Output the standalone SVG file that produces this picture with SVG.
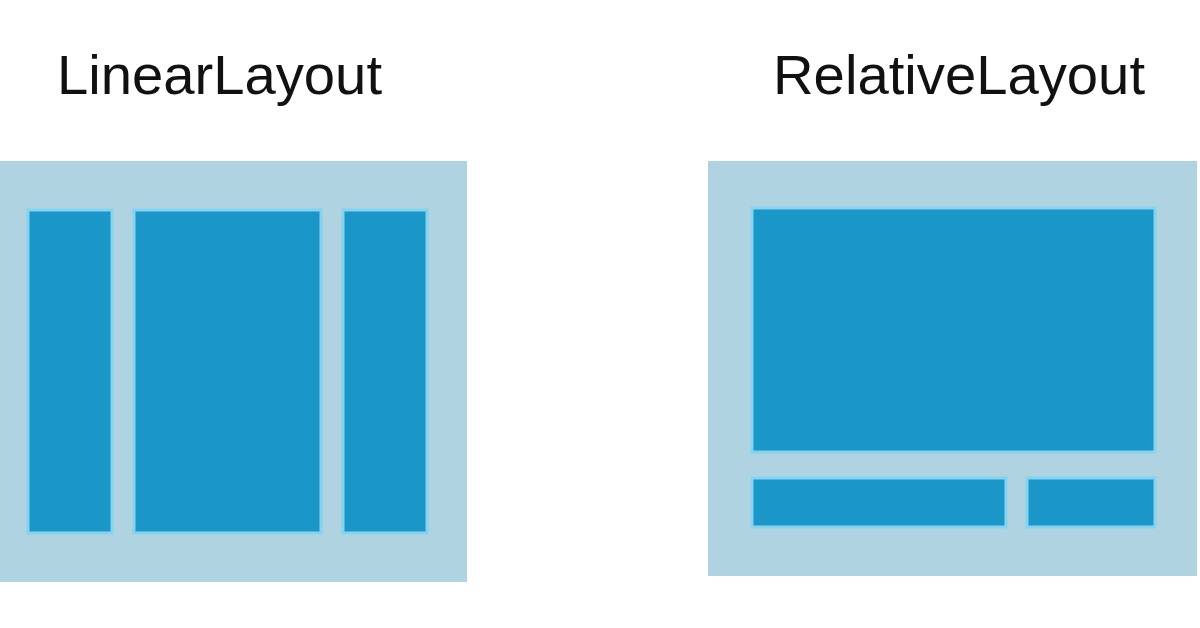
<svg xmlns="http://www.w3.org/2000/svg" width="1200" height="628" viewBox="0 0 1200 628">
<style>
.outer{fill:#afd3e0}
.inner{fill:#1b96c9;stroke:#86d3ef;stroke-width:3}
.title{font-family:"Liberation Sans",Arial,sans-serif;font-size:56px;fill:#111}
</style>
<rect width="1200" height="628" fill="#ffffff"/>
<g id="linear">
<text class="title" x="57" y="94" textLength="325" lengthAdjust="spacingAndGlyphs">LinearLayout</text>
<rect class="outer" x="0" y="161" width="467" height="421"/>
<rect class="inner" x="28" y="210" width="84" height="323"/>
<rect class="inner" x="134" y="210" width="187" height="323"/>
<rect class="inner" x="343" y="210" width="84" height="323"/>
</g>
<g id="relative">
<text class="title" x="773" y="94" textLength="372" lengthAdjust="spacingAndGlyphs">RelativeLayout</text>
<rect class="outer" x="708" y="161" width="489" height="415"/>
<rect class="inner" x="752" y="208" width="403" height="244"/>
<rect class="inner" x="752" y="478" width="254" height="49"/>
<rect class="inner" x="1027" y="478" width="128" height="49"/>
</g>
<g id="connectors"/>
</svg>
